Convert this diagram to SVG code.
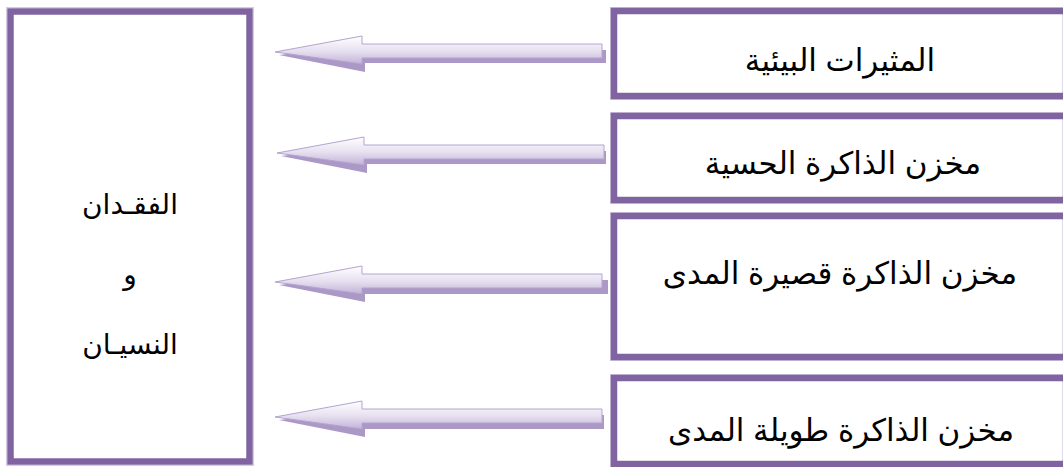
<svg xmlns="http://www.w3.org/2000/svg" width="1063" height="467" viewBox="0 0 1063 467">
<style>
.box{fill:#ffffff;stroke:#8064a2;stroke-width:6.5}
.halo{fill:none;stroke:#d4cae2;stroke-width:1}
.t{font-family:"Liberation Sans","DejaVu Sans",sans-serif;font-size:31px;fill:#000000;text-anchor:middle;direction:rtl}
.tl{font-size:28px}
.shadow{fill:#ab98c7}
.arr{fill:url(#ag);stroke:#b4a4cf;stroke-width:1}
</style>
<defs>
<linearGradient id="ag" x1="0" y1="0" x2="0" y2="1">
<stop offset="0" stop-color="#ffffff"/>
<stop offset="0.55" stop-color="#e6dfef"/>
<stop offset="1" stop-color="#c2b3d8"/>
</linearGradient>
<polygon id="arrowShape" points="0,0 87,-16 87,-8 327,-8 327,6 87,6 87,12"/>
</defs>
<rect width="1063" height="467" fill="#ffffff"/>
<g id="connectors">
<g transform="translate(275,52)"><polygon class="shadow" points="4,3 90,20 90,11 331,11 331,-2 90,-2 90,-8"/><use href="#arrowShape" class="arr"/></g>
<g transform="translate(277,153)"><polygon class="shadow" points="4,3 90,20 90,11 329,11 329,-2 90,-2 90,-8"/><use href="#arrowShape" class="arr"/></g>
<g transform="translate(275,282)"><polygon class="shadow" points="4,3 90,20 90,12 333,12 333,-2 90,-2 90,-8"/><use href="#arrowShape" class="arr"/></g>
<g transform="translate(275,417)"><polygon class="shadow" points="4,3 90,20 90,12 329,12 329,-2 90,-2 90,-8"/><use href="#arrowShape" class="arr"/></g>
</g>
<g id="node-loss">
<rect class="halo" x="6.5" y="7.5" width="247" height="458"/>
<rect class="box" x="10.5" y="11.5" width="239" height="450"/>
<text class="t tl" x="130" y="214">الفقـدان</text>
<text class="t tl" x="130" y="284">و</text>
<text class="t tl" x="130" y="354">النسيـان</text>
</g>
<g id="node-stimuli">
<rect class="halo" x="610.5" y="7.5" width="460" height="92"/>
<rect class="box" x="614" y="11" width="452" height="85"/>
<text class="t" x="840" y="71">المثيرات البيئية</text>
</g>
<g id="node-sensory">
<rect class="halo" x="610.5" y="112.5" width="460" height="91"/>
<rect class="box" x="614" y="116" width="452" height="84"/>
<text class="t" x="843" y="174">مخزن الذاكرة الحسية</text>
</g>
<g id="node-short">
<rect class="halo" x="610.5" y="212.5" width="460" height="148"/>
<rect class="box" x="614" y="216" width="452" height="141"/>
<text class="t" x="840" y="284">مخزن الذاكرة قصيرة المدى</text>
</g>
<g id="node-long">
<rect class="halo" x="610.5" y="374.5" width="460" height="93"/>
<rect class="box" x="614" y="378" width="452" height="86"/>
<text class="t" x="841" y="441">مخزن الذاكرة طويلة المدى</text>
</g>
</svg>
